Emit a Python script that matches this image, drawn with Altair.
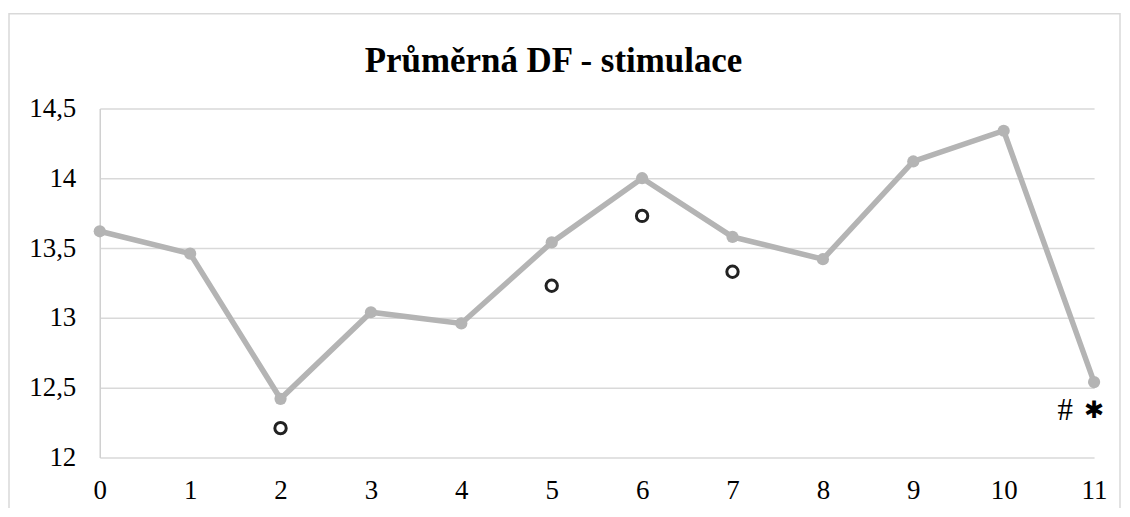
import altair as alt
import pandas as pd

# Data
x_vals = [0, 1, 2, 3, 4, 5, 6, 7, 8, 9, 10, 11]
df_vals = [13.62, 13.46, 12.42, 13.04, 12.96, 13.54, 14.00, 13.58, 13.42, 14.12, 14.34, 12.54]

marker_x = [2, 5, 6, 7]
marker_y = [12.21, 13.23, 13.73, 13.33]

note_x = [11]
note_y = [12.33]

y_ticks = [12, 12.5, 13, 13.5, 14, 14.5]
title_text = "Průměrná DF - stimulace"

main = pd.DataFrame({"x": x_vals, "y": df_vals})
marks = pd.DataFrame({"x": marker_x, "y": marker_y})
notes = pd.DataFrame({"x": note_x, "y": note_y})
title_df = pd.DataFrame({"t": [title_text]})

FONT = "Liberation Serif"
LINE = "#b4b4b4"

xscale = alt.Scale(domain=[0, 11], nice=False, zero=False)
yscale = alt.Scale(domain=[12, 14.5], nice=False, zero=False)

xaxis = alt.Axis(values=x_vals, title=None, grid=False, ticks=False, domain=False,
                 format="d",
                 labelFont=FONT, labelFontSize=27, labelColor="#000000",
                 labelPadding=20, labelFlush=False)
yaxis = alt.Axis(values=y_ticks, title=None, grid=True, gridColor="#d9d9d9",
                 gridWidth=1.5, ticks=False, domain=True, domainColor="#d0d0d0",
                 domainWidth=1.5,
                 labelFont=FONT, labelFontSize=27, labelColor="#000000",
                 labelPadding=24,
                 labelExpr="replace(toString(datum.value), '.', ',')")

border = alt.Chart(title_df).mark_rect(fill=None, stroke="#d9d9d9", strokeWidth=1.5,
                                       clip=False).encode(
    x=alt.value(-91), x2=alt.value(1023),
    y=alt.value(-95), y2=alt.value(430)
)

title = alt.Chart(title_df).mark_text(font=FONT, fontSize=35, fontWeight="bold",
                                      color="#000000", align="center",
                                      baseline="middle").encode(
    text="t:N", x=alt.value(455), y=alt.value(-48)
)

line = alt.Chart(main).mark_line(color=LINE, strokeWidth=5.5).encode(
    x=alt.X("x:Q", scale=xscale, axis=xaxis),
    y=alt.Y("y:Q", scale=yscale, axis=yaxis),
)

pts = alt.Chart(main).mark_point(filled=True, color=LINE, size=150, opacity=1).encode(
    x=alt.X("x:Q", scale=xscale),
    y=alt.Y("y:Q", scale=yscale),
)

rings = alt.Chart(marks).mark_point(shape="circle", filled=False, stroke="#222222",
                                    strokeWidth=3, size=130, opacity=1).encode(
    x=alt.X("x:Q", scale=xscale),
    y=alt.Y("y:Q", scale=yscale),
)

hash_t = alt.Chart(notes).mark_text(text="#", font=FONT, fontSize=31, dx=-29,
                                    baseline="middle", align="center",
                                    color="#000000").encode(
    x=alt.X("x:Q", scale=xscale),
    y=alt.Y("y:Q", scale=yscale),
)
star_t = alt.Chart(notes).mark_text(text="✱", font="DejaVu Sans", fontSize=24, dx=0,
                                    baseline="middle", align="center",
                                    color="#000000").encode(
    x=alt.X("x:Q", scale=xscale),
    y=alt.Y("y:Q", scale=yscale),
)

chart = alt.layer(border, title, line, pts, rings, hash_t, star_t).properties(
    width=997, height=350,
    autosize=alt.AutoSizeParams(type="none"),
    padding={"left": 92, "top": 100, "right": 28, "bottom": 50},
    background="#ffffff",
).configure_view(stroke=None)

chart.save("out.html", embed_options={"renderer": "svg", "actions": False})
